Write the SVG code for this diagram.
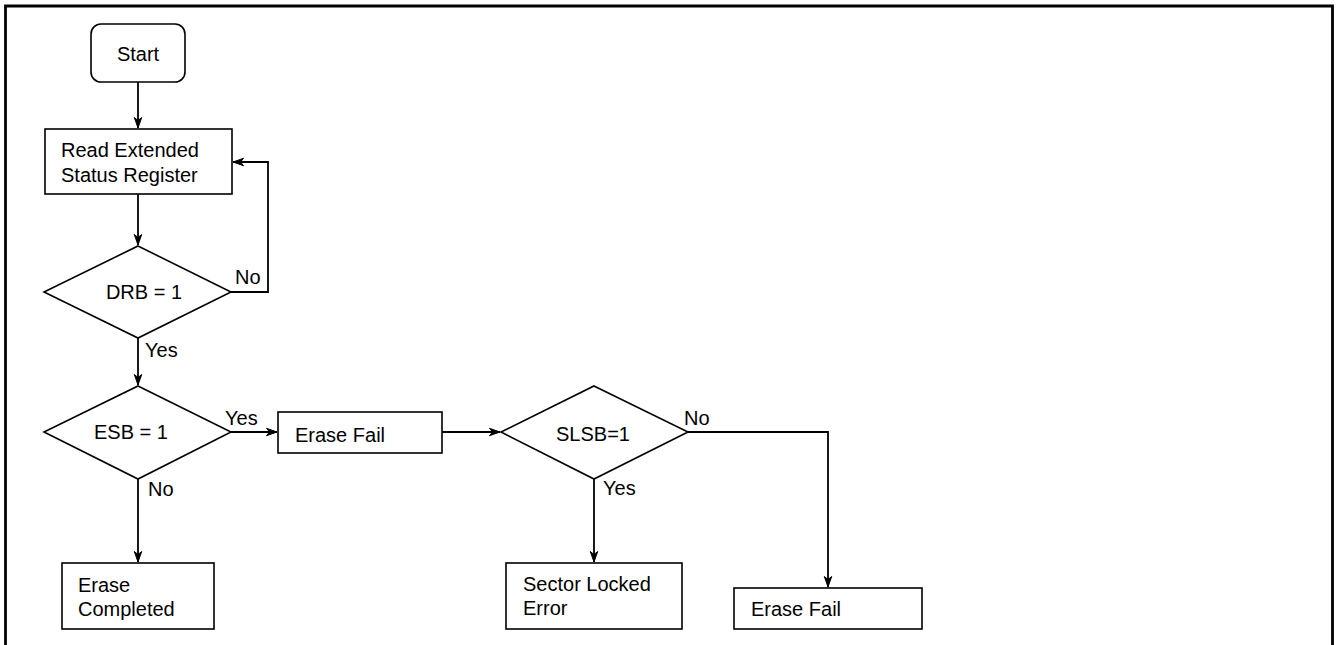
<svg xmlns="http://www.w3.org/2000/svg" width="1336" height="645" viewBox="0 0 1336 645">
<style>
.box{fill:#fff;stroke:#000;stroke-width:1.6}
.ln{fill:none;stroke:#000;stroke-width:1.8}
text{font-family:"Liberation Sans",Arial,sans-serif;font-size:20px;fill:#000}
.c{text-anchor:middle}
</style>
<defs>
<marker id="arr" markerUnits="userSpaceOnUse" markerWidth="12" markerHeight="12" viewBox="0 0 12 12" refX="11" refY="6" orient="auto">
<path d="M0.5,2.3 L11,6 L0.5,9.7 L3.5,6 Z" fill="#000" stroke="#000" stroke-width="1"/>
</marker>
</defs>
<rect width="1336" height="645" fill="#fff"/>
<path d="M5.5,645 V6 H1332.5 V645" fill="none" stroke="#000" stroke-width="2.8"/>

<g id="connectors">
<path class="ln" d="M138,82 V128" marker-end="url(#arr)"/>
<path class="ln" d="M138,194 V245" marker-end="url(#arr)"/>
<path class="ln" d="M231,292 H268 V162 H233" marker-end="url(#arr)"/>
<path class="ln" d="M138,338 V385" marker-end="url(#arr)"/>
<path class="ln" d="M231,432 H277" marker-end="url(#arr)"/>
<path class="ln" d="M138,479 V562" marker-end="url(#arr)"/>
<path class="ln" d="M442,432 H500" marker-end="url(#arr)"/>
<path class="ln" d="M594,479 V562" marker-end="url(#arr)"/>
<path class="ln" d="M688,432 H828 V587" marker-end="url(#arr)"/>
<text x="235" y="284">No</text>
<text x="145" y="357">Yes</text>
<text x="225" y="425">Yes</text>
<text x="148" y="496">No</text>
<text x="684" y="425">No</text>
<text x="603" y="495">Yes</text>
</g>

<g id="start">
<rect class="box" x="91" y="24" width="94" height="58" rx="10" ry="10"/>
<text class="c" x="138" y="61">Start</text>
</g>
<g id="read">
<rect class="box" x="45" y="129" width="187" height="65"/>
<text x="61" y="157">Read Extended</text>
<text x="61" y="182">Status Register</text>
</g>
<g id="drb">
<polygon class="box" points="138,246 231,292 138,338 44,292"/>
<text class="c" x="144" y="299">DRB = 1</text>
</g>
<g id="esb">
<polygon class="box" points="138,386 231,432 138,479 44,432"/>
<text class="c" x="131" y="439">ESB = 1</text>
</g>
<g id="erasefail1">
<rect class="box" x="278" y="412" width="164" height="41"/>
<text x="295" y="442">Erase Fail</text>
</g>
<g id="slsb">
<polygon class="box" points="594,386 688,432 594,479 501,432"/>
<text class="c" x="593" y="441">SLSB=1</text>
</g>
<g id="erasecompleted">
<rect class="box" x="62" y="563" width="152" height="66"/>
<text x="78" y="592">Erase</text>
<text x="78" y="616">Completed</text>
</g>
<g id="sectorlocked">
<rect class="box" x="506" y="563" width="176" height="66"/>
<text x="523" y="591">Sector Locked</text>
<text x="523" y="615">Error</text>
</g>
<g id="erasefail2">
<rect class="box" x="734" y="588" width="188" height="41"/>
<text x="751" y="616">Erase Fail</text>
</g>
</svg>
